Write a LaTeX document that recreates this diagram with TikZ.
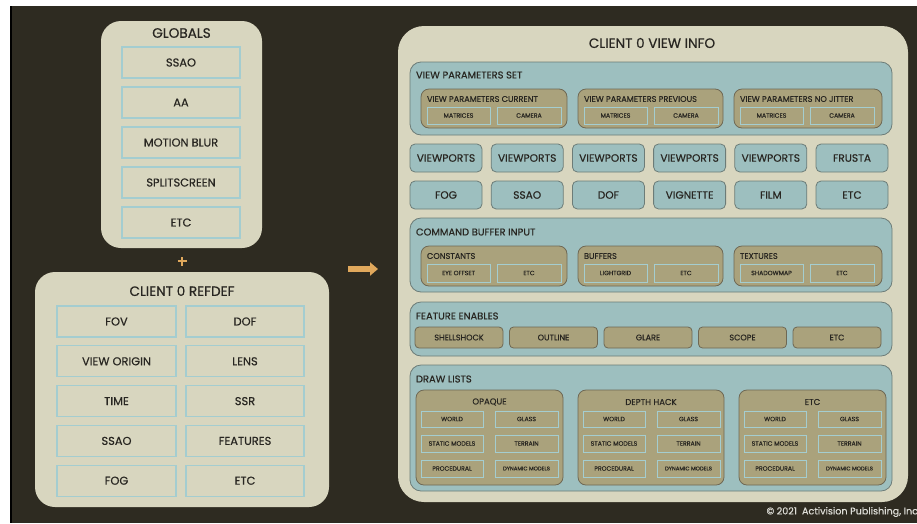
\documentclass[tikz,border=0pt]{standalone}
\usepackage{fontspec}
\setmainfont{Poppins}[FakeBold=0.5]
\usetikzlibrary{arrows.meta}

\definecolor{backdrop}{RGB}{46,43,33}
\definecolor{sand}{RGB}{216,214,191}
\definecolor{teal}{RGB}{157,191,191}
\definecolor{tealedge}{RGB}{108,124,120}
\definecolor{khaki}{RGB}{170,162,124}
\definecolor{khakiedge}{RGB}{110,104,84}
\definecolor{aqualine}{RGB}{164,205,208}
\definecolor{ink}{RGB}{40,38,33}
\definecolor{amber}{RGB}{224,168,92}
\definecolor{notice}{RGB}{222,222,216}

% box from corner (x1,y1) to (x2,y2), in pixel units
\newcommand\rbox[7]{\node[#2, minimum width={(#5)-(#3)}, minimum height={(#6)-(#4)}] (#1) at ({((#3)+(#5))/2},{((#4)+(#6))/2}) {#7};}

\tikzset{
  base/.style={inner sep=0pt, outer sep=0pt, text=ink},
  panel/.style={base, fill=sand, rounded corners=20pt},
  slot/.style={base, fill=sand, draw=aqualine, line width=1.1pt, font=\fontsize{11.4}{13}\selectfont},
  group/.style={base, fill=teal, draw=tealedge, line width=0.8pt, rounded corners=11pt},
  tile/.style={base, fill=teal, draw=tealedge, line width=0.8pt, rounded corners=5pt, font=\fontsize{10.6}{12}\selectfont},
  subgroup/.style={base, fill=khaki, draw=khakiedge, line width=0.8pt, rounded corners=8pt},
  button/.style={base, fill=khaki, draw=khakiedge, line width=0.8pt, rounded corners=4pt, font=\fontsize{8.1}{9}\selectfont},
  cell/.style={base, fill=khaki, draw=aqualine, line width=1pt, font=\fontsize{6.2}{7}\selectfont},
  heading/.style={base, font=\fontsize{13.6}{15}\selectfont},
  grouplabel/.style={base, anchor=west, font=\fontsize{9.9}{11}\selectfont},
  sublabel/.style={base, anchor=west, font=\fontsize{8.2}{9}\selectfont},
  subtitle/.style={base, font=\fontsize{8.5}{10}\selectfont},
}

\begin{document}
\begin{tikzpicture}[x=1pt, y=-1pt]
\useasboundingbox (0,0) rectangle (917,523);
\fill[white] (0,0) rectangle (917,523);
\fill[backdrop] (10,6) rectangle (917,523);
\draw[black, line width=2pt] (11,6) -- (11,523);

% ---------- globals ----------
\rbox{globals}{panel}{101}{21}{262}{248}{}
\node[heading] (globalsT) at (181.5,33) {GLOBALS};
\foreach \t [count=\i from 0] in {SSAO,AA,MOTION BLUR,SPLITSCREEN,ETC}
  \rbox{g\i}{slot}{122}{47+40*\i}{240}{78+40*\i}{\t};

% plus sign between the two panels
\coordinate (plusC) at (182,261);
\draw[amber, line width=2.4pt] ([xshift=-4.5pt]plusC) -- ([xshift=4.5pt]plusC)
  ([yshift=-4.5pt]plusC) -- ([yshift=4.5pt]plusC);

% ---------- client refdef ----------
\rbox{refdef}{panel}{35}{272}{329}{507}{}
\node[heading] (refdefT) at (182,291) {CLIENT 0 REFDEF};
\foreach \a/\b [count=\i from 0] in {FOV/DOF,VIEW ORIGIN/LENS,TIME/SSR,SSAO/FEATURES,FOG/ETC} {
  \rbox{rl\i}{slot}{57}{306+39.8*\i}{176}{337+39.8*\i}{\a}
  \rbox{rr\i}{slot}{186}{306+39.8*\i}{304}{337+39.8*\i}{\b}
}

% arrow into the view info
\coordinate (arrS) at (348,269);
\coordinate (arrE) at (378,269);
\draw[amber, line width=6pt, -{Triangle[length=8pt, width=13pt]}] (arrS) -- (arrE);

% ---------- client view info ----------
\rbox{viewinfo}{panel, rounded corners=26pt}{398}{26}{908}{502}{}
\node[heading] (viewinfoT) at (652,43) {CLIENT 0 VIEW INFO};

% view parameters set
\rbox{vps}{group}{410}{62}{892}{135}{}
\node[grouplabel] (vpsL) at (416,75) {VIEW PARAMETERS SET};
\foreach \sx/\ex/\t [count=\i] in {421/567/CURRENT,578/723/PREVIOUS,734/882/NO JITTER} {
  \rbox{vp\i}{subgroup}{\sx}{89}{\ex}{128}{}
  \node[sublabel] (vp\i L) at (\sx+6,99) {VIEW PARAMETERS \t};
  \rbox{vp\i a}{cell}{\sx+6}{107}{\sx+69}{124}{MATRICES}
  \rbox{vp\i b}{cell}{\sx+76}{107}{\sx+140}{124}{CAMERA}
}

% tiles
\foreach \t [count=\i from 0] in {VIEWPORTS,VIEWPORTS,VIEWPORTS,VIEWPORTS,VIEWPORTS,FRUSTA}
  \rbox{ta\i}{tile}{410+81.2*\i}{144}{482+81.2*\i}{172}{\t};
\foreach \t [count=\i from 0] in {FOG,SSAO,DOF,VIGNETTE,FILM,ETC}
  \rbox{tb\i}{tile}{410+81.2*\i}{181}{482+81.2*\i}{209}{\t};

% command buffer input
\rbox{cbi}{group}{410}{218}{892}{292}{}
\node[grouplabel] (cbiL) at (416,232) {COMMAND BUFFER INPUT};
\foreach \sx/\ex/\t/\u [count=\i] in {421/567/CONSTANTS/EYE OFFSET,578/723/BUFFERS/LIGHTGRID,734/882/TEXTURES/SHADOWMAP} {
  \rbox{cb\i}{subgroup}{\sx}{246}{\ex}{286}{}
  \node[sublabel] (cb\i L) at (\sx+6,256) {\t};
  \rbox{cb\i a}{cell}{\sx+6}{264}{\sx+69}{282}{\u}
  \rbox{cb\i b}{cell}{\sx+76}{264}{\sx+140}{282}{ETC}
}

% feature enables
\rbox{fe}{group}{410}{302}{892}{356}{}
\node[grouplabel] (feL) at (416,316) {FEATURE ENABLES};
\foreach \t [count=\i from 0] in {SHELLSHOCK,OUTLINE,GLARE,SCOPE,ETC}
  \rbox{fe\i}{button}{415+94.5*\i}{327}{503+94.5*\i}{348}{\t};

% draw lists
\rbox{dl}{group}{410}{365}{892}{491}{}
\node[grouplabel] (dlL) at (416,379) {DRAW LISTS};
\foreach \sx/\ex/\t [count=\i] in {416/563/OPAQUE,578/724/DEPTH HACK,739/886/ETC} {
  \rbox{dl\i}{subgroup}{\sx}{390}{\ex}{485}{}
  \node[subtitle] (dl\i T) at ({(\sx+\ex)/2},402) {\t};
  \rbox{dl\i a}{cell}{\sx+5}{411}{\sx+67}{427}{WORLD}
  \rbox{dl\i b}{cell}{\sx+79}{411}{\sx+142}{427}{GLASS}
  \rbox{dl\i c}{cell}{\sx+5}{435}{\sx+67}{452}{STATIC MODELS}
  \rbox{dl\i d}{cell}{\sx+79}{435}{\sx+142}{452}{TERRAIN}
  \rbox{dl\i e}{cell}{\sx+5}{460}{\sx+67}{477}{PROCEDURAL}
  \rbox{dl\i f}{cell, font=\fontsize{5.4}{6}\selectfont}{\sx+79}{460}{\sx+142}{477}{DYNAMIC MODELS}
}

% copyright line
\node[base, text=notice, anchor=east, font=\fontsize{9.6}{11}\selectfont] (copy) at (918,512) {© 2021 \ Activision Publishing, Inc};
\end{tikzpicture}
\end{document}
